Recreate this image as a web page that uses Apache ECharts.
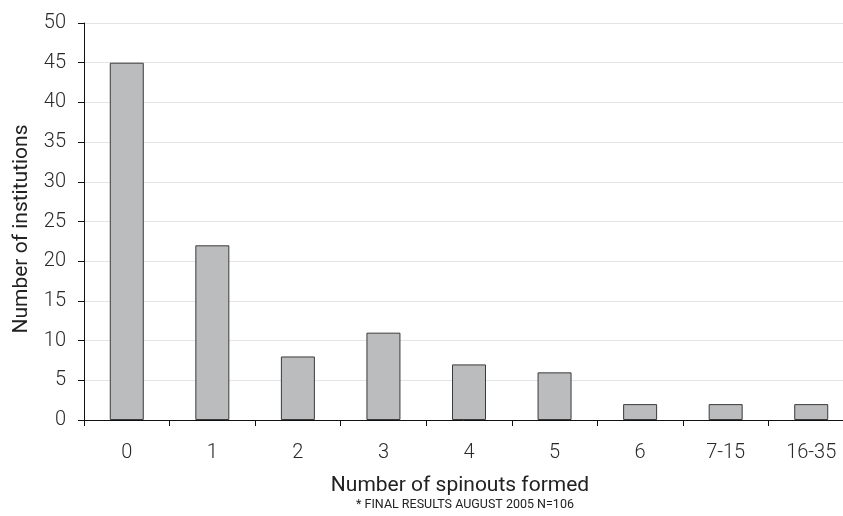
<!DOCTYPE html>
<html>
<head>
<meta charset="utf-8">
<script src="https://cdn.jsdelivr.net/npm/echarts@6/dist/echarts.min.js"></script>
<style>
  html, body { margin: 0; padding: 0; background: #fff; }
  #chart { width: 843px; height: 516px; }
</style>
</head>
<body>
<div id="chart"></div>
<script>
// Spinouts formed per institution
const categories = ['0', '1', '2', '3', '4', '5', '6', '7-15', '16-35'];
const institutions = [45, 22, 8, 11, 7, 6, 2, 2, 2];
const yTicks = { min: 0, max: 50, interval: 5 };

const FONT = 'Roboto, "DejaVu Sans", sans-serif';
const TICK_WEIGHT = 300;
const TEXT = '#222';
const chart = echarts.init(document.getElementById('chart'), null, { renderer: 'canvas' });

chart.setOption({
  animation: false,
  backgroundColor: '#fff',
  grid: { left: 84, top: 23, bottom: 96, width: 770, containLabel: false, outerBoundsMode: 'none' },
  graphic: [
    {
      type: 'text', x: 22, y: 229, rotation: Math.PI / 2,
      style: { text: 'Number of institutions', fontFamily: FONT, fontSize: 21, fill: TEXT,
               align: 'center', verticalAlign: 'middle' }
    },
    {
      type: 'text', x: 460, y: 486,
      style: { text: 'Number of spinouts formed', fontFamily: FONT, fontSize: 21, fill: TEXT,
               align: 'center', verticalAlign: 'middle' }
    },
    {
      type: 'text', x: 465, y: 505,
      style: { text: '* FINAL RESULTS AUGUST 2005 N=106', fontFamily: FONT, fontSize: 12.5, fill: TEXT,
               align: 'center', verticalAlign: 'middle' }
    }
  ],
  xAxis: {
    type: 'category',
    data: categories,
    axisLine: { lineStyle: { color: '#111', width: 1 } },
    axisTick: { show: true, alignWithLabel: false, length: 6, lineStyle: { color: '#111' } },
    axisLabel: { margin: 23, fontFamily: FONT, fontWeight: TICK_WEIGHT, fontSize: 20, color: '#2a2a2a' }
  },
  yAxis: {
    type: 'value',
    min: yTicks.min, max: yTicks.max, interval: yTicks.interval,
    axisLine: { show: true, lineStyle: { color: '#111', width: 1 } },
    axisTick: { show: true, length: 6, lineStyle: { color: '#111' } },
    axisLabel: { margin: 18, fontFamily: FONT, fontWeight: TICK_WEIGHT, fontSize: 20, color: '#2a2a2a' },
    splitLine: { show: true, lineStyle: { color: '#e4e4e4', width: 1 } }
  },
  series: [{
    type: 'bar',
    data: institutions,
    barWidth: 34,
    itemStyle: { color: '#bbbcbe', borderColor: '#3a3a3a', borderWidth: 1 }
  }]
});
</script>
</body>
</html>
